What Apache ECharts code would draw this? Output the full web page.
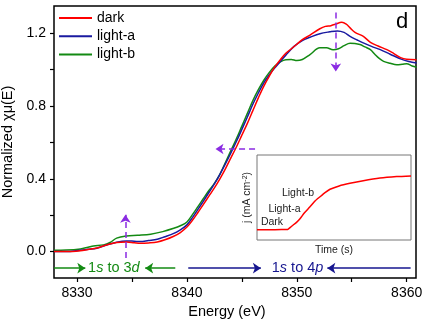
<!DOCTYPE html>
<html>
<head>
<meta charset="utf-8">
<script src="https://cdn.jsdelivr.net/npm/echarts@6/dist/echarts.min.js"></script>
<style>
  html, body { margin: 0; padding: 0; background: #fff; }
  #chart { width: 428px; height: 325px; }
</style>
</head>
<body>
<div id="chart"></div>
<script>
// XANES spectra (normalized chi-mu vs energy)
const darkEnergy = [8327.9, 8329, 8330.3, 8331, 8331.8, 8332.6, 8333.6, 8334.5, 8335.2, 8335.75, 8336.5, 8337.3, 8338, 8338.75, 8339.4,
  8340, 8340.5, 8341, 8341.5, 8342, 8342.5, 8343, 8343.5, 8344, 8344.5, 8345, 8345.5, 8346, 8346.5, 8347, 8347.5, 8348, 8348.5,
  8349, 8349.5, 8350, 8350.5, 8351.2, 8352.1, 8352.6, 8353.1, 8353.5, 8354.1, 8354.5, 8354.85, 8355.3, 8356.06, 8356.7, 8357.4,
  8358.2, 8358.8, 8359.45, 8360, 8360.9];
const darkMu = [0.0, 0.0, 0.005, 0.012, 0.02, 0.035, 0.05, 0.053, 0.049, 0.046, 0.048, 0.053, 0.065, 0.083, 0.105,
  0.135, 0.172, 0.215, 0.26, 0.305, 0.35, 0.40, 0.455, 0.515, 0.575, 0.64, 0.705, 0.775, 0.845, 0.91, 0.965, 1.015, 1.055,
  1.09, 1.115, 1.14, 1.165, 1.19, 1.225, 1.238, 1.242, 1.25, 1.26, 1.25, 1.23, 1.205, 1.183, 1.15, 1.13,
  1.11, 1.09, 1.066, 1.057, 1.055];

const lightAEnergy = [8327.9, 8329, 8330.3, 8331, 8331.8, 8332.6, 8333.6, 8334.5, 8335.2, 8335.75, 8336.5, 8337.3, 8338, 8338.8, 8339.4,
  8340, 8340.5, 8341, 8341.5, 8342, 8342.5, 8343, 8343.5, 8344, 8344.5, 8345, 8345.5, 8346, 8346.5, 8347, 8347.5, 8348, 8348.5,
  8349, 8349.75, 8350.5, 8351.2, 8352.1, 8353, 8353.7, 8354.3, 8354.85, 8355.5, 8356.05, 8356.8, 8357.6, 8358.5, 8359.5, 8360.2, 8360.9];
const lightAMu = [0.0, 0.0, 0.008, 0.013, 0.019, 0.035, 0.052, 0.059, 0.057, 0.055, 0.061, 0.068, 0.082, 0.10, 0.12,
  0.147, 0.187, 0.232, 0.278, 0.325, 0.372, 0.425, 0.482, 0.542, 0.605, 0.672, 0.74, 0.81, 0.872, 0.928, 0.972, 1.01, 1.045,
  1.08, 1.128, 1.16, 1.178, 1.198, 1.208, 1.213, 1.205, 1.183, 1.163, 1.147, 1.128, 1.11, 1.085, 1.058, 1.045, 1.037];

const lightBEnergy = [8327.9, 8329, 8330.3, 8331, 8331.5, 8332.4, 8333, 8333.6, 8334.5, 8335.5, 8336.7, 8337.8, 8338.8, 8339.4,
  8340, 8340.5, 8341, 8341.5, 8342, 8342.5, 8343, 8343.5, 8344, 8344.5, 8345, 8345.5, 8346, 8346.5, 8347, 8347.5, 8348, 8348.5,
  8349, 8349.5, 8350, 8350.5, 8351.2, 8352.1, 8352.7, 8353.3, 8353.8, 8354.3, 8354.85, 8355.75, 8356.2, 8356.7, 8357.1, 8357.5,
  8357.9, 8358.5, 8359.1, 8359.6, 8360, 8360.5, 8360.9];
const lightBMu = [0.008, 0.009, 0.015, 0.024, 0.031, 0.037, 0.05, 0.074, 0.086, 0.09, 0.096, 0.11, 0.128, 0.142,
  0.163, 0.203, 0.247, 0.292, 0.336, 0.375, 0.425, 0.49, 0.555, 0.62, 0.69, 0.76, 0.83, 0.89, 0.942, 0.985, 1.02, 1.043,
  1.055, 1.056, 1.05, 1.056, 1.083, 1.12, 1.12, 1.11, 1.115, 1.132, 1.145, 1.138, 1.125, 1.11, 1.085, 1.062,
  1.046, 1.035, 1.027, 1.03, 1.033, 1.02, 1.013];

// inset: photocurrent vs time
const insetTime = [-20, 0, 50, 100, 102, 115, 135, 147.5, 165, 186.5, 205, 225.5, 245, 264.5, 300, 342, 394, 459, 524, 580];
const insetJ = [0.505, 0.505, 0.508, 0.512, 0.515, 0.60, 0.71, 0.80, 0.96, 1.12, 1.27, 1.39, 1.50, 1.59, 1.68, 1.75, 1.82, 1.89, 1.93, 1.95];

const seriesNames = ["dark", "light-a", "light-b"];
const xTickValues = [8330, 8335, 8340, 8345, 8350, 8355, 8360];
const xTickLabels = [8330, 8340, 8350, 8360];
const yTickValues = [0, 0.2, 0.4, 0.6, 0.8, 1.0, 1.2];
const yTickLabels = [0, 0.4, 0.8, 1.2];

const FONT = "'Liberation Sans', Arial, sans-serif";
const colors = ["#ff0000", "#1a1aa0", "#138a13"];
const purple = "#8a2be2";
const green = "#138a13";
const navy = "#16168f";

const pair = (xs, ys) => xs.map((x, i) => [x, ys[i]]);

const chart = echarts.init(document.getElementById("chart"));

const dashed = { color: purple, width: 1.5, type: [6, 4] };
const solidG = { color: green, width: 1.5, type: "solid" };
const solidB = { color: navy, width: 1.5, type: "solid" };

const option = {
  animation: false,
  textStyle: { fontFamily: FONT },
  legend: {
    data: seriesNames,
    orient: "vertical",
    left: 59,
    top: 10,
    padding: 0,
    icon: "rect",
    itemWidth: 33,
    itemHeight: 2,
    itemGap: 2.3,
    textStyle: { fontSize: 14, color: "#000", fontFamily: FONT, lineHeight: 16 },
  },
  graphic: [
    { type: "text", left: 396, top: 11, style: { text: "d", fontSize: 22, fill: "#000", fontFamily: FONT } },
  ],
  grid: [
    { left: 54, top: 6, right: 12, bottom: 47, show: true, borderColor: "#000", borderWidth: 1.5, outerBoundsMode: "none" },
    { left: 257, top: 155, width: 154, height: 85, show: true, borderColor: "#777", borderWidth: 1, backgroundColor: "#fff", z: 5, outerBoundsMode: "none" },
  ],
  xAxis: [
    {
      type: "value",
      gridIndex: 0,
      min: 8327.9,
      max: 8360.85,
      axisLine: { show: false, onZero: false },
      splitLine: { show: false },
      axisTick: { show: true, inside: false, length: 4, lineStyle: { color: "#000", width: 1.2 }, customValues: xTickValues },
      axisLabel: { customValues: xTickLabels, fontSize: 14, color: "#000", margin: 8, fontFamily: FONT, formatter: (v) => String(v) },
      name: "Energy (eV)",
      nameLocation: "middle",
      nameGap: 26,
      nameTextStyle: { fontSize: 14.5, color: "#000", fontFamily: FONT, padding: [0, 16, 0, 0] },
    },
    {
      type: "value",
      gridIndex: 1,
      min: -20,
      max: 580,
      axisLine: { show: false, onZero: false },
      splitLine: { show: false },
      axisTick: { show: true, inside: true, length: 3, lineStyle: { color: "#777", width: 1 }, customValues: [0, 100, 200, 300, 400, 500] },
      axisLabel: { show: false },
      name: "Time (s)",
      nameLocation: "middle",
      nameGap: 5,
      nameTextStyle: { fontSize: 10.5, color: "#222", fontFamily: FONT, verticalAlign: "top" },
    },
  ],
  yAxis: [
    {
      type: "value",
      gridIndex: 0,
      min: -0.145,
      max: 1.35,
      axisLine: { show: false, onZero: false },
      splitLine: { show: false },
      axisTick: { show: true, inside: false, length: 4, lineStyle: { color: "#000", width: 1.2 }, customValues: yTickValues },
      axisLabel: { customValues: yTickLabels, fontSize: 14, color: "#000", margin: 8, fontFamily: FONT, formatter: (v) => v.toFixed(1) },
      name: "Normalized \u03c7\u03bc(E)",
      nameLocation: "middle",
      nameGap: 37,
      nameTextStyle: { fontSize: 14.5, color: "#000", fontFamily: FONT },
    },
    {
      type: "value",
      gridIndex: 1,
      min: 0.23,
      max: 2.51,
      axisLine: { show: false, onZero: false },
      splitLine: { show: false },
      axisTick: { show: true, inside: true, length: 3, lineStyle: { color: "#777", width: 1 }, customValues: [1, 2] },
      axisLabel: { show: false },
      name: "j (mA cm{s|-2})",
      nameLocation: "middle",
      nameGap: 4,
      nameTextStyle: {
        fontSize: 10.5, color: "#222", fontFamily: FONT,
        rich: { s: { fontSize: 7, verticalAlign: "top", color: "#222", fontFamily: FONT } },
      },
    },
  ],
  series: [
    { name: "dark", type: "line", data: pair(darkEnergy, darkMu) },
    { name: "light-a", type: "line", data: pair(lightAEnergy, lightAMu) },
    { name: "light-b", type: "line", data: pair(lightBEnergy, lightBMu) },
  ].map((s, i) => ({
    ...s,
    xAxisIndex: 0,
    yAxisIndex: 0,
    symbol: "none",
    smooth: 0.35,
    z: 3 - i,
    lineStyle: { color: colors[i], width: 1.5 },
    itemStyle: { color: colors[i] },
  })).concat([
    {
      // annotations: arrows and transition labels
      name: "annot",
      type: "line",
      xAxisIndex: 0,
      yAxisIndex: 0,
      data: [],
      silent: true,
      markLine: {
        silent: true,
        symbol: ["none", "arrow"],
        symbolSize: 8,
        label: { show: false },
        emphasis: { disabled: true },
        data: [
          [{ coord: [8353.55, 1.314], lineStyle: dashed, itemStyle: { color: purple } }, { coord: [8353.55, 0.99] }],
          [{ coord: [8346.2, 0.564], lineStyle: dashed, itemStyle: { color: purple } }, { coord: [8342.6, 0.564] }],
          [{ coord: [8334.4, -0.035], lineStyle: dashed, itemStyle: { color: purple } }, { coord: [8334.4, 0.202] }],
          [{ coord: [8327.9, -0.091], lineStyle: solidG, itemStyle: { color: green } }, { coord: [8330.75, -0.091] }],
          [{ coord: [8338.94, -0.091], lineStyle: solidG, itemStyle: { color: green } }, { coord: [8336.2, -0.091] }],
          [{ coord: [8340.12, -0.091], lineStyle: solidB, itemStyle: { color: navy } }, { coord: [8346.73, -0.091] }],
          [{ coord: [8360.36, -0.091], lineStyle: solidB, itemStyle: { color: navy } }, { coord: [8352.78, -0.091] }],
        ],
      },
      markPoint: {
        silent: true,
        symbol: "circle",
        symbolSize: 0,
        data: [
          {
            coord: [8333.35, -0.091],
            label: {
              show: true, position: "inside",
              formatter: "{n|1}{i|s}{n| to 3}{i|d}",
              rich: {
                n: { fontSize: 14.5, color: green, fontFamily: FONT },
                i: { fontSize: 14.5, color: green, fontStyle: "italic", fontFamily: FONT },
              },
            },
          },
          {
            coord: [8350.07, -0.091],
            label: {
              show: true, position: "inside",
              formatter: "{n|1}{i|s}{n| to 4}{i|p}",
              rich: {
                n: { fontSize: 14.5, color: navy, fontFamily: FONT },
                i: { fontSize: 14.5, color: navy, fontStyle: "italic", fontFamily: FONT },
              },
            },
          },
        ],
      },
    },
    {
      name: "inset",
      type: "line",
      xAxisIndex: 1,
      yAxisIndex: 1,
      data: pair(insetTime, insetJ),
      symbol: "none",
      smooth: 0.2,
      z: 6,
      lineStyle: { color: "#ff0000", width: 1.5 },
      itemStyle: { color: "#ff0000" },
      markPoint: {
        silent: true,
        symbol: "circle",
        symbolSize: 0,
        label: { show: true, position: "inside", fontSize: 10.5, color: "#222", fontFamily: FONT },
        data: [
          { coord: [38.4, 0.71], label: { formatter: "Dark" } },
          { coord: [87, 1.05], label: { formatter: "Light-a" } },
          { coord: [139.7, 1.48], label: { formatter: "Light-b" } },
        ],
      },
    },
  ]),
};

chart.setOption(option);
</script>
</body>
</html>
